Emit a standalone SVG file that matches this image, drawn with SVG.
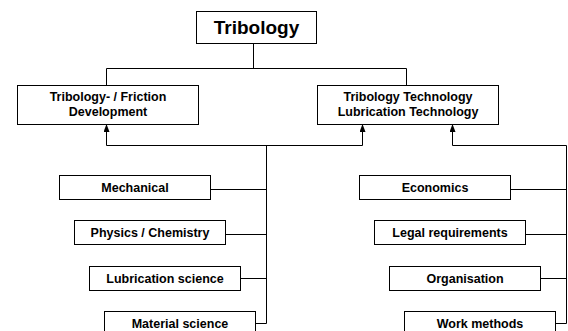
<svg xmlns="http://www.w3.org/2000/svg" width="568" height="331" viewBox="0 0 568 331">
<defs>
<style>
.box{fill:#fff;stroke:#000;stroke-width:1}
.t{font-family:"Liberation Sans",Arial,sans-serif;font-weight:bold;font-size:12.5px;text-anchor:middle;fill:#000}
.title{font-size:19px}
.c{fill:none;stroke:#000;stroke-width:1}
</style>
<marker id="ah" viewBox="0 0 8 6" refX="8" refY="3" markerWidth="8" markerHeight="6" markerUnits="userSpaceOnUse" orient="auto">
<path d="M0,0 L8,3 L0,6 z" fill="#000"/>
</marker>
</defs>
<rect width="568" height="331" fill="#fff"/>
<g id="connectors">
<path class="c" d="M253.5,43 V68.5 M106.5,68.5 H406.5 M106.5,68.5 V85 M406.5,68.5 V85"/>
<path class="c" d="M106.5,145.5 V124" marker-end="url(#ah)"/>
<path class="c" d="M362.5,145.5 V124" marker-end="url(#ah)"/>
<path class="c" d="M452.5,145.5 V124" marker-end="url(#ah)"/>
<path class="c" d="M106.5,145.5 H362.5 M266.5,145.5 V323.5 M452.5,145.5 H566.5 V323.5"/>
<path class="c" d="M210,189.5 H266.5 M225,234.5 H266.5 M240,278.5 H266.5 M255,323.5 H266.5"/>
<path class="c" d="M510,189.5 H566.5 M525,234.5 H566.5 M540,278.5 H566.5 M555,323.5 H566.5"/>
</g>
<g id="tribology">
<rect class="box" x="196.5" y="11.5" width="120" height="32"/>
<text class="t title" x="256.5" y="34">Tribology</text>
</g>
<g id="friction-development">
<rect class="box" x="17.5" y="85.5" width="181" height="39"/>
<text class="t" x="108" y="101">Tribology- / Friction</text>
<text class="t" x="108" y="116">Development</text>
</g>
<g id="lubrication-technology">
<rect class="box" x="317.5" y="85.5" width="181" height="39"/>
<text class="t" x="408" y="101">Tribology Technology</text>
<text class="t" x="408" y="116">Lubrication Technology</text>
</g>
<g id="mechanical">
<rect class="box" x="59.5" y="175.5" width="151" height="24"/>
<text class="t" x="135" y="192">Mechanical</text>
</g>
<g id="physics-chemistry">
<rect class="box" x="74.5" y="220.5" width="151" height="24"/>
<text class="t" x="150" y="237">Physics / Chemistry</text>
</g>
<g id="lubrication-science">
<rect class="box" x="89.5" y="266.5" width="151" height="24"/>
<text class="t" x="165" y="283">Lubrication science</text>
</g>
<g id="material-science">
<rect class="box" x="104.5" y="311.5" width="151" height="24"/>
<text class="t" x="180" y="328">Material science</text>
</g>
<g id="economics">
<rect class="box" x="359.5" y="175.5" width="151" height="24"/>
<text class="t" x="435" y="192">Economics</text>
</g>
<g id="legal-requirements">
<rect class="box" x="374.5" y="220.5" width="151" height="24"/>
<text class="t" x="450" y="237">Legal requirements</text>
</g>
<g id="organisation">
<rect class="box" x="389.5" y="266.5" width="151" height="24"/>
<text class="t" x="465" y="283">Organisation</text>
</g>
<g id="work-methods">
<rect class="box" x="404.5" y="311.5" width="151" height="24"/>
<text class="t" x="480" y="328">Work methods</text>
</g>
</svg>
